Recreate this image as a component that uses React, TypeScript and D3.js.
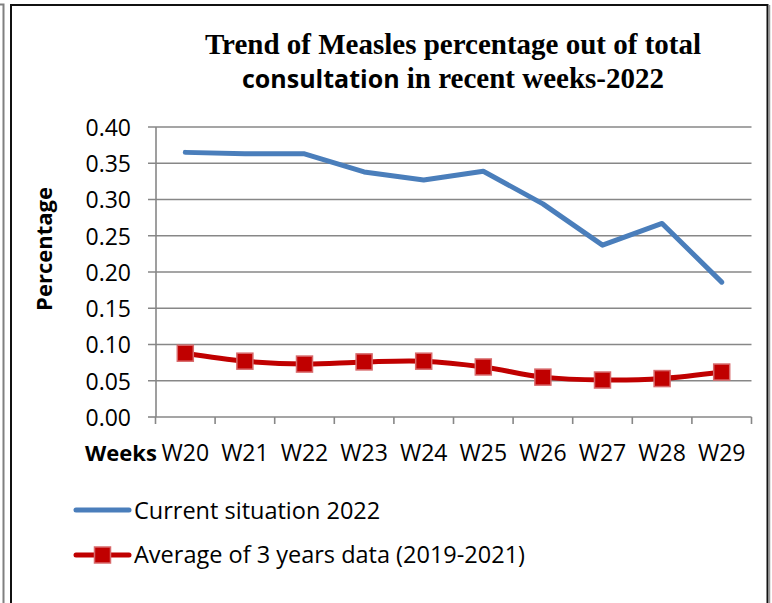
import * as d3 from "d3";
import { useEffect, useRef } from "react";

const WEEKS = ["W20", "W21", "W22", "W23", "W24", "W25", "W26", "W27", "W28", "W29"];
const CURRENT_2022 = [0.365, 0.363, 0.363, 0.338, 0.327, 0.339, 0.294, 0.237, 0.267, 0.186];
const AVG_3_YEARS = [0.088, 0.077, 0.073, 0.076, 0.077, 0.069, 0.055, 0.051, 0.053, 0.062];
const Y_TICKS = [0, 0.05, 0.1, 0.15, 0.2, 0.25, 0.3, 0.35, 0.4];

const COLORS = {
  current: "#4A7EBB",
  avg: "#C00000",
  avgMarkerStroke: "#D8696B",
  grid: "#878787",
};

const SANS = "'Open Sans', sans-serif";
const SERIF = "'Liberation Serif', 'Times New Roman', serif";

type Pt = { week: string; v: number };

export default function App() {
  const svgRef = useRef<SVGSVGElement>(null);
  const width = 772;
  const height = 603;

  useEffect(() => {
    if (!svgRef.current) return;
    const svg = d3.select(svgRef.current);
    svg.selectAll("*").remove();

    const x = d3.scaleBand<string>().domain(WEEKS).range([155.5, 751.5]);
    const y = d3.scaleLinear().domain([0, 0.4]).range([417, 127]);
    const cx = (w: string) => (x(w) ?? 0) + x.bandwidth() / 2;

    // frame
    svg
      .append("path")
      .attr("d", "M0,4.5H3.5V603")
      .attr("fill", "none")
      .attr("stroke", "#808080")
      .attr("stroke-width", 2);
    svg
      .append("path")
      .attr("d", "M11,610V5H767.5V610")
      .attr("fill", "none")
      .attr("stroke", "#111")
      .attr("stroke-width", 2);
    svg
      .append("line")
      .attr("x1", 769.5)
      .attr("x2", 769.5)
      .attr("y1", 5)
      .attr("y2", 603)
      .attr("stroke", "#999")
      .attr("stroke-width", 1.5);

    // title
    const t1 = svg
      .append("text")
      .attr("x", 453)
      .attr("y", 54)
      .attr("text-anchor", "middle")
      .attr("font-weight", "bold")
      .attr("font-size", 29)
      .attr("fill", "#000");
    t1.append("tspan").attr("font-family", SERIF).text("Trend of Measles percentage out of total");

    const t2 = svg
      .append("text")
      .attr("x", 453)
      .attr("y", 88)
      .attr("text-anchor", "middle")
      .attr("font-weight", "bold")
      .attr("font-size", 29)
      .attr("fill", "#000");
    t2.append("tspan").attr("font-family", SANS).attr("font-size", 25).text("consultation");
    t2.append("tspan").attr("font-family", SERIF).text(" in recent weeks-2022");

    // gridlines + y axis
    const yAxis = d3
      .axisLeft(y)
      .tickValues(Y_TICKS)
      .tickSize(0)
      .tickFormat((d) => d3.format(".2f")(d as number));
    const gy = svg.append("g").attr("transform", "translate(156,0)").call(yAxis);
    gy.select(".domain").remove();
    gy.selectAll(".tick text")
      .attr("x", -25)
      .attr("dy", "0.36em")
      .attr("font-family", SANS)
      .attr("font-size", 23)
      .attr("fill", "#000");

    svg
      .append("g")
      .selectAll("line")
      .data(Y_TICKS)
      .join("line")
      .attr("x1", 148)
      .attr("x2", (d) => (d === 0 ? 156 : 751.5))
      .attr("y1", (d) => y(d))
      .attr("y2", (d) => y(d))
      .attr("stroke", COLORS.grid)
      .attr("stroke-width", 1.6);

    svg
      .append("line")
      .attr("x1", 156)
      .attr("x2", 156)
      .attr("y1", 127)
      .attr("y2", 417)
      .attr("stroke", COLORS.grid)
      .attr("stroke-width", 1.6);

    // x axis
    svg
      .append("line")
      .attr("x1", 155.5)
      .attr("x2", 751.5)
      .attr("y1", 417)
      .attr("y2", 417)
      .attr("stroke", COLORS.grid)
      .attr("stroke-width", 1.6);

    const boundaries = [...WEEKS.map((w) => x(w) ?? 0), 751.5];
    svg
      .append("g")
      .selectAll("line")
      .data(boundaries)
      .join("line")
      .attr("x1", (d) => d)
      .attr("x2", (d) => d)
      .attr("y1", 417)
      .attr("y2", 424)
      .attr("stroke", COLORS.grid)
      .attr("stroke-width", 1.6);

    svg
      .append("g")
      .selectAll("text")
      .data(WEEKS)
      .join("text")
      .attr("x", (d) => cx(d))
      .attr("y", 461)
      .attr("text-anchor", "middle")
      .attr("font-family", SANS)
      .attr("font-size", 23)
      .text((d) => d);

    svg
      .append("text")
      .attr("x", 85)
      .attr("y", 461)
      .attr("font-family", SANS)
      .attr("font-weight", "bold")
      .attr("font-size", 22)
      .text("Weeks");

    svg
      .append("text")
      .attr("transform", "translate(52,249) rotate(-90)")
      .attr("text-anchor", "middle")
      .attr("font-family", SANS)
      .attr("font-weight", "bold")
      .attr("font-size", 22)
      .text("Percentage");

    // series
    const cur: Pt[] = WEEKS.map((w, i) => ({ week: w, v: CURRENT_2022[i] }));
    const avg: Pt[] = WEEKS.map((w, i) => ({ week: w, v: AVG_3_YEARS[i] }));

    const straight = d3
      .line<Pt>()
      .x((d) => cx(d.week))
      .y((d) => y(d.v));
    const smooth = d3
      .line<Pt>()
      .x((d) => cx(d.week))
      .y((d) => y(d.v))
      .curve(d3.curveCatmullRom.alpha(0.5));

    svg
      .append("path")
      .datum(cur)
      .attr("fill", "none")
      .attr("stroke", COLORS.current)
      .attr("stroke-width", 5)
      .attr("stroke-linecap", "round")
      .attr("stroke-linejoin", "round")
      .attr("d", straight);

    svg
      .append("path")
      .datum(avg)
      .attr("fill", "none")
      .attr("stroke", COLORS.avg)
      .attr("stroke-width", 5)
      .attr("stroke-linecap", "round")
      .attr("d", smooth);

    const m = 16;
    svg
      .append("g")
      .selectAll("rect")
      .data(avg)
      .join("rect")
      .attr("x", (d) => cx(d.week) - m / 2)
      .attr("y", (d) => y(d.v) - m / 2)
      .attr("width", m)
      .attr("height", m)
      .attr("fill", COLORS.avg)
      .attr("stroke", COLORS.avgMarkerStroke)
      .attr("stroke-width", 1.5);

    // legend
    const lg = svg.append("g");
    lg.append("line")
      .attr("x1", 76)
      .attr("x2", 129)
      .attr("y1", 510)
      .attr("y2", 510)
      .attr("stroke", COLORS.current)
      .attr("stroke-width", 5)
      .attr("stroke-linecap", "round");
    lg.append("text")
      .attr("x", 134)
      .attr("y", 519)
      .attr("font-family", SANS)
      .attr("font-size", 23.5)
      .text("Current situation 2022");

    lg.append("line")
      .attr("x1", 76)
      .attr("x2", 129)
      .attr("y1", 555)
      .attr("y2", 555)
      .attr("stroke", COLORS.avg)
      .attr("stroke-width", 5)
      .attr("stroke-linecap", "round");
    lg.append("rect")
      .attr("x", 102.5 - m / 2)
      .attr("y", 555 - m / 2)
      .attr("width", m)
      .attr("height", m)
      .attr("fill", COLORS.avg)
      .attr("stroke", COLORS.avgMarkerStroke)
      .attr("stroke-width", 1.5);
    lg.append("text")
      .attr("x", 134)
      .attr("y", 563)
      .attr("font-family", SANS)
      .attr("font-size", 23.5)
      .text("Average of 3 years data (2019-2021)");
  }, []);

  return (
    <svg
      ref={svgRef}
      width={width}
      height={height}
      viewBox={`0 0 ${width} ${height}`}
      style={{ position: "absolute", left: 0, top: 0, display: "block", background: "#fff" }}
    />
  );
}
